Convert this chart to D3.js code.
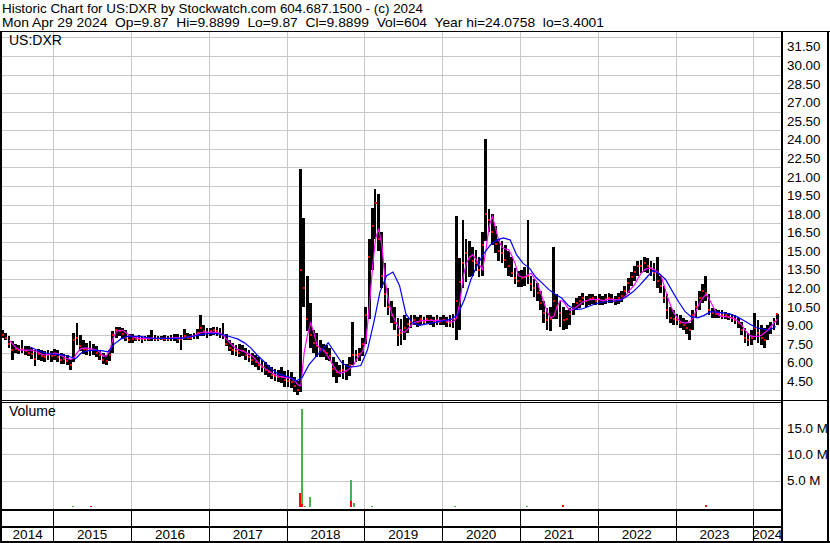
<!DOCTYPE html>
<html><head><meta charset="utf-8">
<script src="https://cdn.jsdelivr.net/npm/d3@7"></script>
<style>
html,body{margin:0;padding:0;background:#fff;}
svg{display:block;}
text{font-family:"Liberation Sans",Arial,sans-serif;font-size:13px;fill:#000;}
</style></head><body>
<svg id="c" width="830" height="543"></svg>
<script>
// ---------- DATA ----------
const headerLine1 = "Historic Chart for US:DXR by Stockwatch.com 604.687.1500 - (c) 2024";
const headerLine2 = "Mon Apr 29 2024  Op=9.87  Hi=9.8899  Lo=9.87  Cl=9.8899  Vol=604  Year hi=24.0758  lo=3.4001";
const symbolLabel = "US:DXR";
const volumeLabel = "Volume";
const firstPeriod = "2014-05-01";   // half-month periods start here (1st and 16th of each month)
const lastDate = "2024-05-10";
const years = [2014,2015,2016,2017,2018,2019,2020,2021,2022,2023,2024];
const priceTicks = [4.5,6,7.5,9,10.5,12,13.5,15,16.5,18,19.5,21,22.5,24,25.5,27,28.5,30,31.5];
const volumeTicks = [5e6,10e6,15e6];

// half-month bars: high / low / close (one line per year)
const high = [
 8.6,8.4,8.1,7.7,7.5,7.4,7.8,7.3,7.3,7.2,7.0,7.1,7.0,6.9,7.0,6.9,
 7.1,7.0,6.8,6.7,6.6,6.3,8.4,9.2,8.2,7.8,7.6,7.7,7.5,7.3,7.0,6.8,6.6,7.0,8.5,8.9,8.9,8.8,8.6,8.3,
 8.3,8.1,8.2,8.1,8.1,8.2,8.6,8.2,8.1,8.1,8.2,8.1,8.2,8.3,8.3,8.2,8.7,8.4,8.3,8.4,8.7,9.8,9.0,8.8,
 8.8,8.9,8.9,8.8,9.2,8.3,7.8,7.6,7.4,7.5,7.4,7.2,7.0,6.8,6.6,6.4,6.2,6.0,5.8,5.6,5.5,5.4,5.6,5.3,
 5.4,5.2,4.8,4.5,21.6,17.7,13.0,10.8,8.6,8.4,7.8,7.5,7.4,7.2,6.4,6.0,5.8,6.2,5.9,6.4,9.3,7.0,7.2,8.0,
 10.5,16.0,18.5,20.0,19.6,16.5,14.0,12.0,11.0,10.5,9.6,9.5,9.8,9.6,9.8,9.8,9.7,9.8,9.7,9.8,9.8,9.7,9.8,9.7,
 9.8,9.7,9.8,9.9,17.8,14.4,17.5,16.0,15.8,15.3,15.1,14.5,16.5,24.08,18.4,18.0,17.0,16.0,15.8,15.5,15.0,14.5,13.6,13.4,
 13.5,13.7,17.5,13.0,12.7,12.4,11.8,11.0,10.4,10.5,15.3,11.5,11.0,10.5,10.2,10.4,10.8,11.2,11.4,11.6,11.4,11.5,11.5,11.4,
 11.5,11.4,11.5,11.6,11.5,11.4,11.6,11.8,12.2,12.8,13.3,13.8,14.2,14.3,14.5,14.4,14.2,14.0,14.5,13.0,12.2,11.5,10.5,10.2,
 9.9,9.8,9.6,9.4,9.2,10.2,11.0,11.8,12.3,13.0,11.5,10.4,10.3,10.2,10.2,10.1,10.0,9.9,9.8,9.6,9.3,8.8,8.4,8.6,
 10.0,9.4,9.0,8.8,9.0,9.3,9.6,9.9
];
const low = [
 8.0,7.8,7.2,6.2,6.8,6.7,6.8,6.6,6.5,6.3,5.7,6.2,6.1,6.0,6.2,6.0,
 6.2,6.0,5.9,5.9,5.8,5.4,6.0,7.4,6.9,6.7,6.6,6.5,6.6,6.4,6.2,5.9,5.8,6.1,6.8,8.0,8.1,7.9,7.7,7.6,
 7.6,7.7,7.7,7.6,7.7,7.7,7.7,7.7,7.7,7.8,7.7,7.7,7.7,7.7,7.6,7.0,7.8,7.8,7.8,7.9,7.9,8.1,8.1,8.0,
 8.1,8.2,8.1,8.0,7.9,7.3,6.9,6.6,6.5,6.4,6.5,6.2,6.0,5.8,5.6,5.4,5.2,5.0,4.8,4.7,4.5,4.4,4.3,4.0,
 4.0,3.9,3.6,3.4,3.6,10.5,8.5,7.2,6.8,6.4,6.4,6.4,6.2,6.1,4.8,4.3,4.8,4.7,4.6,4.9,5.8,6.0,6.1,6.5,
 7.5,9.5,13.5,16.0,15.0,12.0,10.5,9.8,9.2,8.6,7.3,7.4,7.8,8.4,8.8,9.0,8.9,9.0,9.0,9.1,9.0,8.9,9.0,9.0,
 9.0,8.9,8.9,8.8,7.8,8.6,12.0,12.5,12.9,13.0,13.4,12.9,13.0,15.8,16.5,15.5,14.8,14.2,14.0,13.6,13.0,12.9,12.3,12.1,
 12.1,12.2,12.3,11.8,11.3,11.0,10.2,9.2,8.6,8.5,9.5,9.5,8.9,8.6,8.7,9.0,9.8,10.2,10.4,10.6,10.5,10.6,10.7,10.6,
 10.6,10.6,10.7,10.8,10.8,10.6,10.7,10.9,11.2,11.6,12.2,12.6,13.0,13.2,13.3,13.2,13.0,12.6,12.0,11.6,10.8,9.5,9.2,9.0,
 9.0,8.8,8.6,8.3,7.8,8.6,9.6,10.2,10.8,11.0,9.8,9.6,9.6,9.6,9.5,9.5,9.4,9.3,9.1,8.8,8.2,7.6,7.3,7.4,
 7.8,7.6,7.4,7.2,7.8,8.3,8.6,9.0
];
const close = [
 8.2,8.0,7.5,7.0,7.1,7.0,7.1,6.9,6.8,6.7,6.3,6.7,6.5,6.4,6.6,6.5,
 6.6,6.4,6.2,6.3,6.1,5.8,7.8,8.0,7.3,7.1,7.0,7.1,7.0,6.8,6.6,6.2,6.1,6.6,8.2,8.6,8.5,8.3,8.0,7.8,
 7.9,7.9,7.9,7.9,7.9,7.9,8.0,7.9,7.9,7.9,7.9,7.9,8.0,8.0,7.9,7.9,8.1,8.0,8.0,8.1,8.4,8.8,8.5,8.4,
 8.5,8.6,8.5,8.3,8.2,7.5,7.2,7.0,6.9,6.8,6.9,6.6,6.4,6.2,6.0,5.8,5.6,5.4,5.2,5.0,4.9,4.8,4.8,4.6,
 4.5,4.4,4.1,3.8,13.5,12.0,9.5,8.2,7.6,7.3,7.0,6.9,6.8,6.5,5.5,5.2,5.3,5.4,5.3,5.8,6.6,6.6,6.7,7.5,
 9.8,14.5,17.0,18.9,16.0,13.0,11.5,10.5,9.8,9.2,8.2,8.4,8.8,9.1,9.3,9.4,9.3,9.5,9.3,9.5,9.4,9.3,9.4,9.3,
 9.4,9.3,9.2,9.5,11.0,12.5,14.0,14.8,14.5,14.2,14.0,13.5,15.5,18.0,17.5,16.5,15.6,15.0,14.8,14.3,13.8,13.2,12.8,12.6,
 12.8,12.9,13.0,12.3,12.0,11.6,10.8,10.0,9.4,9.5,11.0,10.5,10.0,9.4,9.5,9.9,10.4,10.8,11.0,11.2,11.0,11.1,11.2,11.0,
 11.1,11.0,11.1,11.2,11.1,11.0,11.2,11.4,11.8,12.4,12.9,13.3,13.8,13.8,14.0,13.8,13.6,13.2,12.6,12.2,11.2,10.2,9.6,9.5,
 9.4,9.2,9.0,8.8,8.6,9.8,10.5,11.2,11.8,11.6,10.2,10.0,9.9,9.9,9.8,9.8,9.7,9.6,9.4,9.2,8.6,8.0,7.8,8.0,
 8.8,8.4,8.0,7.8,8.6,8.9,9.3,9.89
];
// short moving average (magenta), one value per half-month
const maShort = [
 null,null,7.8,7.5,7.2,7.05,7.0,7.0,7.0,7.0,6.9,6.8,6.65,6.6,6.65,6.7,
 6.75,6.7,6.55,6.4,6.3,6.25,6.35,6.8,7.1,7.15,7.15,7.1,7.05,7.0,6.8,6.5,6.55,7.0,7.9,8.5,8.6,8.6,8.4,8.2,
 8.05,8.0,7.95,7.95,7.95,7.95,7.95,7.95,7.95,7.95,7.95,7.95,7.95,8.0,8.0,7.95,8.0,8.05,8.1,8.15,8.3,8.4,8.45,8.45,
 8.45,8.45,8.4,8.35,8.2,7.9,7.6,7.35,7.1,7.0,6.9,6.8,6.65,6.5,6.2,5.9,5.7,5.5,5.3,5.15,5.0,4.9,4.85,4.8,
 4.75,4.7,4.5,4.2,4.1,6.8,8.2,9.2,8.4,7.4,7.1,7.0,6.6,6.2,5.7,5.3,5.1,5.2,5.35,5.5,5.7,6.2,6.6,6.9,
 7.8,10.5,13.8,16.0,16.8,15.5,12.6,11.0,10.0,9.4,8.9,8.5,8.45,8.7,9.0,9.25,9.3,9.35,9.4,9.4,9.4,9.4,9.4,9.4,
 9.4,9.35,9.3,9.3,9.6,10.8,12.9,14.0,14.5,14.7,14.3,13.9,13.5,15.0,17.0,17.8,16.8,15.8,15.3,15.15,15.1,14.6,14.0,13.0,
 12.9,12.9,13.1,13.2,12.8,12.4,11.6,10.8,10.1,9.6,9.7,10.5,11.0,10.9,10.5,10.2,10.3,10.5,10.7,10.9,11.0,11.05,11.1,11.1,
 11.05,11.0,11.05,11.1,11.1,11.05,11.05,11.1,11.3,11.7,12.0,12.3,12.8,13.2,13.5,13.6,13.6,13.5,13.3,13.0,12.2,11.3,10.6,10.0,
 9.6,9.3,9.2,9.2,9.3,9.6,10.2,10.8,11.2,11.5,11.1,10.6,10.1,9.8,9.7,9.7,9.65,9.6,9.5,9.3,9.0,8.6,8.3,8.1,
 8.1,8.1,8.2,8.4,8.6,8.9,9.2,9.5
];
// long moving average (blue), one value per month (May 2014 .. Apr 2024)
const maLong = [
 null,null,null,null,7.25,7.0,6.8,6.7,
 6.65,6.6,6.5,6.3,6.8,6.95,7.0,6.95,6.85,7.5,7.9,8.1,
 8.1,8.1,8.0,7.95,7.95,7.95,7.95,7.95,8.0,8.1,8.2,8.3,
 8.35,8.3,8.2,8.05,7.9,7.6,7.2,6.6,6.1,5.55,5.15,4.95,
 4.8,4.5,4.8,5.8,6.4,7.0,7.6,6.8,6.0,5.65,5.65,5.75,
 7.0,9.3,11.7,13.0,13.3,12.2,9.9,9.2,9.0,9.1,9.2,9.3,
 9.4,9.5,9.9,11.1,12.7,13.9,14.8,15.5,15.9,16.05,15.9,14.7,
 14.0,13.6,12.9,12.4,11.9,11.5,11.2,10.6,10.3,10.3,10.5,10.7,
 10.85,10.9,10.95,11.0,11.3,11.7,12.2,12.8,13.4,13.2,12.7,11.8,
 10.9,10.1,9.7,9.6,9.8,10.1,10.05,10.0,9.9,9.7,9.4,9.1,
 8.8,8.7,8.6,8.9
];
// visible daily volume bars
const volDates = ["2015-04-05","2015-06-25","2018-03-06","2018-03-12","2018-03-16","2018-03-14","2018-03-28","2018-04-20","2018-10-30","2018-10-31","2018-11-13","2019-02-05","2020-03-02","2021-02-02","2021-07-20","2023-05-22"];
const volValues = [150000,150000,2700000,18600000,8700000,600000,250000,1900000,5100000,1100000,700000,200000,200000,150000,350000,300000];
const volDir = ["up","down","down","up","up","down","up","up","up","down","up","up","up","up","down","down"];

// ---------- CHART ----------
const svg = d3.select("#c");
const parse = d3.utcParse("%Y-%m-%d");
const L = 2, R = 781, PT = 31, PB = 401, VT = 403, VB = 510;

const p0 = parse(firstPeriod);
const periodStart = [];
const monthMid = [];
for (let i = 0; i < 120; i++) {
  const yr = p0.getUTCFullYear() + Math.floor((p0.getUTCMonth() + i) / 12);
  const mo = (p0.getUTCMonth() + i) % 12;
  periodStart.push(new Date(Date.UTC(yr, mo, 1)), new Date(Date.UTC(yr, mo, 16)));
  monthMid.push(new Date(Date.UTC(yr, mo, 15)));
}
const periodEnd = periodStart.slice(1).concat([new Date(Date.UTC(2024, 4, 1))]);
const periodMid = periodStart.map((d, i) => new Date((+d + +periodEnd[i]) / 2));

const x = d3.scaleUtc().domain([p0, parse(lastDate)]).range([1.1, R]);
const y = d3.scaleLinear().domain([4.5, 31.5]).range([381, 46.7]);
const yv = d3.scaleLinear().domain([0, 15e6]).range([507, 428]);

const grid = "#c8c8c8";
const yearStarts = years.slice(1).map(yr => new Date(Date.UTC(yr, 0, 1)));
const cx = d => Math.round(x(d)) + 0.5;

// clip paths
const defs = svg.append("defs");
defs.append("clipPath").attr("id", "cp").append("rect").attr("x", L).attr("y", PT).attr("width", R - L).attr("height", PB - PT);
defs.append("clipPath").attr("id", "cv").append("rect").attr("x", L).attr("y", VT).attr("width", R - L).attr("height", VB - VT);

// header
svg.append("text").attr("x", 2).attr("y", 12.5).style("white-space", "pre")
  .attr("textLength", 421).attr("lengthAdjust", "spacingAndGlyphs").text(headerLine1);
svg.append("text").attr("x", 2).attr("y", 27).style("white-space", "pre")
  .attr("textLength", 602).attr("lengthAdjust", "spacingAndGlyphs").text(headerLine2);

// grid: price panel
const gp = svg.append("g");
const gridVals = d3.range(3.75, 32.3, 1.5);
gp.selectAll("line.h").data(gridVals).join("line")
  .attr("x1", L).attr("x2", R).attr("y1", d => Math.round(y(d)) + 0.5).attr("y2", d => Math.round(y(d)) + 0.5)
  .attr("stroke", grid);
gp.selectAll("line.v").data(yearStarts).join("line")
  .attr("x1", cx).attr("x2", cx).attr("y1", PT).attr("y2", PB).attr("stroke", grid);
// grid: volume panel
const gv = svg.append("g");
gv.selectAll("line.h").data(volumeTicks).join("line")
  .attr("x1", L).attr("x2", R).attr("y1", d => Math.round(yv(d)) + 0.5).attr("y2", d => Math.round(yv(d)) + 0.5)
  .attr("stroke", grid);
gv.selectAll("line.v").data(yearStarts).join("line")
  .attr("x1", cx).attr("x2", cx).attr("y1", VT).attr("y2", VB).attr("stroke", grid);

// price bars
const bars = d3.range(periodStart.length).map(i => ({ s: periodStart[i], e: periodEnd[i], m: periodMid[i], h: high[i], l: low[i], c: close[i] }));
const pg = svg.append("g").attr("clip-path", "url(#cp)");
pg.selectAll("rect.bar").data(bars).join("rect")
  .attr("x", d => x(d.s)).attr("width", d => Math.max(1, x(d.e) - x(d.s) - 0.5))
  .attr("y", d => y(d.h)).attr("height", d => Math.max(1, y(d.l) - y(d.h)))
  .attr("fill", "#000").attr("shape-rendering", "crispEdges");
pg.selectAll("rect.cl").data(bars).join("rect")
  .attr("x", d => x(d.m) - 1).attr("width", 2)
  .attr("y", d => y(d.c) - 1).attr("height", 2)
  .attr("fill", "#ff0000").attr("shape-rendering", "crispEdges");

// moving averages
const lineS = d3.line().defined((d, i) => maShort[i] != null).x((d, i) => x(periodMid[i])).y(d => y(d));
pg.append("path").datum(maShort).attr("d", lineS).attr("fill", "none").attr("stroke", "#ff00ff").attr("stroke-width", 1.2);
const lineL = d3.line().defined(d => d != null).x((d, i) => x(monthMid[i])).y(d => y(d));
pg.append("path").datum(maLong).attr("d", lineL).attr("fill", "none").attr("stroke", "#0000ff").attr("stroke-width", 1.2);

// volume bars
const vols = volDates.map((d, i) => ({ d: parse(d), v: volValues[i], dir: volDir[i] }));
const vg = svg.append("g").attr("clip-path", "url(#cv)");
vg.selectAll("rect").data(vols).join("rect")
  .attr("x", d => Math.round(x(d.d)) - 1).attr("width", 2)
  .attr("y", d => yv(d.v)).attr("height", d => Math.max(1, yv(0) - yv(d.v)))
  .attr("fill", d => d.dir === "up" ? "#4caf50" : "#ff0000").attr("shape-rendering", "crispEdges");

// panel labels
svg.append("text").attr("x", 9).attr("y", 45).style("font-size", "14px").text(symbolLabel);
svg.append("text").attr("x", 9).attr("y", 416).style("font-size", "14px").text(volumeLabel);

// right axes
const ax = svg.append("g").attr("transform", `translate(${R + 2},0)`)
  .call(d3.axisRight(y).tickValues(priceTicks).tickSize(0).tickPadding(4).tickFormat(d3.format(".2f")));
const axv = svg.append("g").attr("transform", `translate(${R + 2},0)`)
  .call(d3.axisRight(yv).tickValues(volumeTicks).tickSize(0).tickPadding(4).tickFormat(d => (d / 1e6).toFixed(1) + " M"));
[ax, axv].forEach(g => {
  g.select(".domain").remove();
  g.attr("font-size", null).attr("font-family", null);
  g.selectAll("text").attr("fill", "#000").style("font-size", "13.4px");
});

// x axis rows: ticks + year labels
const xr = svg.append("g");
xr.selectAll("line").data(yearStarts).join("line")
  .attr("x1", cx).attr("x2", cx).attr("y1", VB).attr("y2", 541).attr("stroke", "#000");
xr.selectAll("text").data(years).join("text")
  .attr("x", yr => {
    const a = Math.max(L, x(new Date(Date.UTC(yr, 0, 1))));
    const b = Math.min(R, x(new Date(Date.UTC(yr + 1, 0, 1))));
    return (a + b) / 2;
  })
  .attr("y", 539).attr("text-anchor", "middle").style("font-size", "13.5px").text(d => d);

// frame lines
const frame = svg.append("g").attr("stroke", "#000").attr("shape-rendering", "crispEdges");
const seg = (x1, y1, x2, y2, w) => frame.append("line").attr("x1", x1).attr("y1", y1).attr("x2", x2).attr("y2", y2).attr("stroke-width", w || 1);
seg(0, 31.5, 830, 31.5);
seg(1, 31, 1, 543, 2);
seg(782, 31, 782, 543, 2);
seg(828, 31, 828, 543, 2);
seg(0, 400.5, 828, 400.5);
seg(0, 402.5, 782, 402.5);
seg(0, 510, 782, 510, 2);
seg(0, 527, 782, 527, 2);
seg(0, 542, 830, 542, 2);
</script>
</body></html>
